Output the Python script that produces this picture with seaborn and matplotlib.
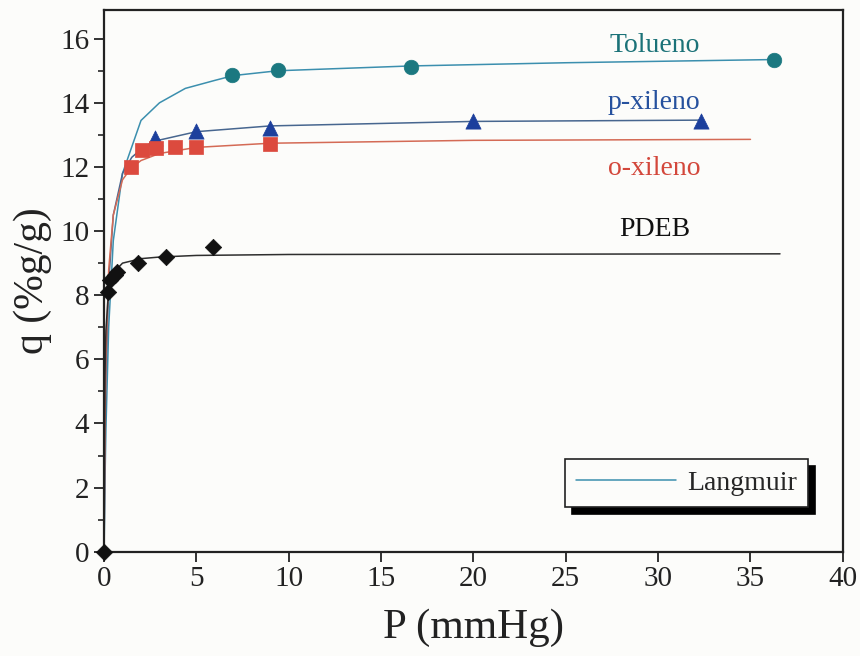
import matplotlib
matplotlib.use("Agg")
import matplotlib.pyplot as plt
import seaborn as sns
import pandas as pd

# measured points (P in mmHg, q in %g/g)
tol_p = [6.95, 9.4, 16.6, 36.3]
tol_q = [14.86, 15.02, 15.12, 15.33]
px_p = [2.76, 4.98, 8.98, 20.0, 32.3]
px_q = [12.9, 13.13, 13.23, 13.43, 13.43]
ox_p = [1.44, 2.04, 2.8, 3.84, 4.98, 9.0]
ox_q = [12.0, 12.52, 12.6, 12.63, 12.63, 12.73]
pdeb_p = [0.0, 0.23, 0.32, 0.6, 0.72, 1.86, 3.36, 5.88]
pdeb_q = [0.0, 8.11, 8.47, 8.63, 8.73, 8.99, 9.2, 9.49]

# Langmuir fit curves
tol_fit_p = [0, 0.05, 0.1, 0.25, 0.5, 1.0, 2.0, 3.0, 4.4, 6.0, 7.0, 9.4, 16.6, 25, 36.3]
tol_fit_q = [0, 2.2, 3.8, 7.0, 9.7, 11.8, 13.45, 14.0, 14.45, 14.7, 14.85, 15.0, 15.15, 15.25, 15.35]
px_fit_p = [0, 0.05, 0.1, 0.25, 0.5, 1.0, 1.5, 2.0, 2.7, 5, 9, 20, 32.3]
px_fit_q = [0, 3.4, 5.4, 8.4, 10.5, 11.8, 12.3, 12.55, 12.8, 13.1, 13.28, 13.42, 13.46]
ox_fit_p = [0, 0.05, 0.1, 0.25, 0.5, 1.0, 1.44, 2.0, 3.0, 5.0, 9.0, 20, 35]
ox_fit_q = [0, 3.9, 6.0, 8.8, 10.5, 11.6, 11.95, 12.2, 12.42, 12.61, 12.74, 12.83, 12.86]
pdeb_fit_p = [0, 0.02, 0.05, 0.1, 0.25, 0.5, 1.0, 2.0, 3.0, 5.0, 10, 36.6]
pdeb_fit_q = [0, 3.4, 5.5, 6.9, 8.2, 8.7, 9.0, 9.14, 9.19, 9.24, 9.27, 9.29]

labels = ["Tolueno", "p-xileno", "o-xileno", "PDEB"]
label_y = [15.8, 14.0, 11.95, 10.05]
label_x = 29.8

sns.set_theme(style="ticks")
plt.rcParams["font.family"] = ["Liberation Serif", "DejaVu Serif"]

fig, ax = plt.subplots(figsize=(8.6, 6.56), dpi=100)
fig.patch.set_facecolor("#fcfcfa")
ax.set_facecolor("#fcfcfa")
fig.subplots_adjust(left=0.121, right=0.980, top=0.985, bottom=0.159)

series = [
    (tol_fit_p, tol_fit_q, tol_p, tol_q, "#3b8fae", "#1b7880", "o", 110, "#1b7278"),
    (px_fit_p, px_fit_q, px_p, px_q, "#47668f", "#1c3f9c", "^", 120, "#26519e"),
    (ox_fit_p, ox_fit_q, ox_p, ox_q, "#d46a55", "#dc4a3e", "s", 100, "#d3473b"),
    (pdeb_fit_p, pdeb_fit_q, pdeb_p, pdeb_q, "#2e2e2e", "#111111", "D", 70, "#111111"),
]

for i, (fp, fq, mp, mq, lc, mc, mk, ms, tc) in enumerate(series):
    fit = pd.DataFrame({"P": fp, "q": fq})
    sns.lineplot(data=fit, x="P", y="q", sort=False, estimator=None,
                 color=lc, linewidth=1.1, ax=ax, clip_on=False,
                 label="Langmuir" if i == 0 else None, legend=False)
    pts = pd.DataFrame({"P": mp, "q": mq})
    sns.scatterplot(data=pts, x="P", y="q", marker=mk, s=ms, color=mc,
                    edgecolor=mc, linewidth=0.5, ax=ax, clip_on=False, zorder=5)
    ax.text(label_x, label_y[i], labels[i], color=tc, fontsize=20,
            ha="center", va="center")

ax.set_xlim(0, 40)
ax.set_ylim(0, 16.9)
ax.set_xticks(range(0, 41, 5))
ax.set_yticks(range(0, 17, 2))
ax.set_yticks(range(1, 17, 2), minor=True)
ax.tick_params(axis="both", which="major", direction="out", length=7,
               width=1.3, labelsize=21, color="#222222", labelcolor="#222222")
ax.tick_params(axis="y", which="minor", direction="out", length=4, width=1.2)
for sp in ax.spines.values():
    sp.set_linewidth(1.6)
    sp.set_color("#222222")

ax.set_xlabel("P (mmHg)", fontsize=31, color="#222222", labelpad=12)
ax.set_ylabel("q (%g/g)", fontsize=30, color="#222222", labelpad=6)

handles, _ = ax.get_legend_handles_labels()
leg = ax.legend(handles=handles[:1], labels=["Langmuir"], loc="lower right",
                bbox_to_anchor=(0.953, 0.083), borderaxespad=0, fontsize=20,
                fancybox=False, edgecolor="#222222", framealpha=1,
                handlelength=3.6, handletextpad=0.4, borderpad=0.4,
                shadow={"color": "black", "alpha": 1, "ox": 5, "oy": -5})
leg.get_frame().set_linewidth(1.2)
leg.get_frame().set_facecolor("#fcfcfa")

fig.savefig("out.png", dpi=100, facecolor=fig.get_facecolor())
